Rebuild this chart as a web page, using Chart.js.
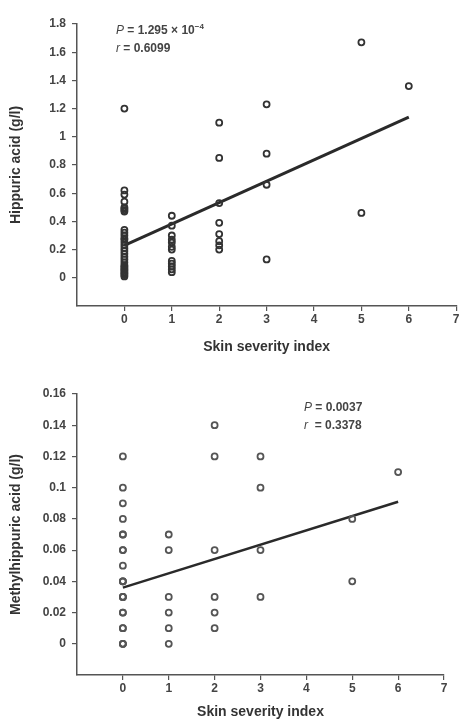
<!DOCTYPE html>
<html>
<head>
<meta charset="utf-8">
<script src="https://cdn.jsdelivr.net/npm/chart.js@4"></script>
<style>
  body { margin: 0; background: #fff; width: 462px; height: 723px; position: relative; overflow: hidden; }
  .box { position: absolute; left: 0; width: 462px; }
  .note { position: absolute; font: bold 12px "Liberation Sans", Arial, sans-serif; color: #444; line-height: 18px; white-space: nowrap; }
  .note i { font-weight: normal; }
  .note sup { font-size: 8px; }
</style>
</head>
<body>
<div class="box" style="top:0;height:362px"><canvas id="hippuric-chart"></canvas></div>
<div class="box" style="top:362px;height:361px"><canvas id="methyl-chart"></canvas></div>
<div class="note" style="left:116px;top:18px"><i>P</i> = 1.295 &times; 10<sup>&minus;4</sup><br><i>r</i> = 0.6099</div>
<div class="note" style="left:304px;top:398px"><i>P</i> = 0.0037<br><i>r</i> &nbsp;= 0.3378</div>
<script>
// Hippuric acid (g/l) vs skin severity index
var hippuricSeverity = [
  0, 0, 0, 0, 0, 0, 0, 0, 0, 0, 0, 0, 0, 0, 0, 0, 0, 0, 0, 0, 0, 0, 0, 0, 0, 0, 0, 0, 0, 0,
  1, 1, 1, 1, 1, 1, 1, 1, 1, 1, 1, 1,
  2, 2, 2, 2, 2, 2, 2, 2,
  3, 3, 3, 3,
  5, 5,
  6
];
var hippuricValues = [
  1.2, 0.62, 0.59, 0.54, 0.5, 0.49, 0.48, 0.47, 0.34, 0.32, 0.3, 0.28, 0.27, 0.25, 0.23,
  0.21, 0.19, 0.17, 0.15, 0.13, 0.11, 0.09, 0.08, 0.07, 0.06, 0.05, 0.04, 0.03, 0.02, 0.01,
  0.44, 0.37, 0.3, 0.27, 0.25, 0.22, 0.2, 0.12, 0.1, 0.08, 0.06, 0.04,
  1.1, 0.85, 0.53, 0.39, 0.31, 0.26, 0.23, 0.2,
  1.23, 0.88, 0.66, 0.13,
  1.67, 0.46,
  1.36
];
var hippuricFitX = [0, 6];
var hippuricFitY = [0.23, 1.14];

// Methylhippuric acid (g/l) vs skin severity index
var methylSeverity = [
  0, 0, 0, 0, 0, 0, 0, 0, 0, 0, 0, 0, 0, 0, 0, 0, 0, 0, 0, 0, 0, 0,
  1, 1, 1, 1, 1, 1,
  2, 2, 2, 2, 2, 2,
  3, 3, 3, 3,
  5, 5,
  6
];
var methylValues = [
  0.12, 0.1, 0.09, 0.08, 0.07, 0.07, 0.06, 0.06, 0.05, 0.04, 0.04, 0.04,
  0.03, 0.03, 0.03, 0.02, 0.02, 0.01, 0.01, 0, 0, 0,
  0.07, 0.06, 0.03, 0.02, 0.01, 0,
  0.14, 0.12, 0.06, 0.03, 0.02, 0.01,
  0.12, 0.1, 0.06, 0.03,
  0.08, 0.04,
  0.11
];
var methylFitX = [0, 6];
var methylFitY = [0.036, 0.091];

var severityTicks = [0, 1, 2, 3, 4, 5, 6, 7];

var axisColor = '#555';
var tickFont = { family: '"Liberation Sans", Arial, sans-serif', size: 12, weight: 'bold' };
var titleFont = { family: '"Liberation Sans", Arial, sans-serif', size: 14, weight: 'bold' };

function pairs(xs, ys) {
  return xs.map(function(x, i) { return { x: x, y: ys[i] }; });
}

// plain labels like the original: 1, 0.1 (no padded zeros)
function plainLabel(value) {
  return String(Number(value.toFixed(3)));
}

function makeChart(id, cfg) {
  return new Chart(document.getElementById(id).getContext('2d'), {
    type: 'scatter',
    data: {
      datasets: [{
        data: pairs(cfg.xs, cfg.ys),
        pointStyle: 'circle',
        pointRadius: 3,
        borderColor: cfg.pointColor,
        borderWidth: 1.8,
        backgroundColor: 'rgba(255,255,255,0)'
      }, {
        type: 'line',
        data: pairs(cfg.fitX, cfg.fitY),
        borderColor: '#2a2a2a',
        borderWidth: cfg.lineWidth,
        pointRadius: 0,
        fill: false
      }]
    },
    options: {
      responsive: true,
      maintainAspectRatio: false,
      animation: false,
      layout: { padding: cfg.padding },
      plugins: { legend: { display: false }, tooltip: { enabled: false } },
      scales: {
        x: {
          type: 'linear',
          min: -1,
          max: 7,
          afterBuildTicks: function(scale) {
            scale.ticks = severityTicks.map(function(v) { return { value: v }; });
          },
          afterFit: function(scale) { scale.height = cfg.xAxisHeight; },
          grid: { drawOnChartArea: false, color: axisColor, tickLength: 5, lineWidth: 1.2 },
          border: { color: axisColor, width: 1.5 },
          ticks: { color: '#444', font: tickFont, padding: 1, maxRotation: 0, callback: plainLabel },
          title: { display: true, text: 'Skin severity index', color: '#333', font: titleFont, padding: { top: 4, bottom: 0 } }
        },
        y: {
          type: 'linear',
          min: cfg.yMin,
          max: cfg.yMax,
          afterBuildTicks: function(scale) {
            scale.ticks = cfg.yTicks.map(function(v) { return { value: v }; });
          },
          afterFit: function(scale) { scale.width = 77 - cfg.padding.left; },
          grid: { drawOnChartArea: false, color: axisColor, tickLength: 5, lineWidth: 1.2 },
          border: { color: axisColor, width: 1.5 },
          ticks: { color: '#444', font: tickFont, padding: 6, callback: plainLabel },
          title: { display: true, text: cfg.yTitle, color: '#333', font: titleFont, padding: { top: 0, bottom: 0 } }
        }
      }
    }
  });
}

makeChart('hippuric-chart', {
  xs: hippuricSeverity, ys: hippuricValues,
  fitX: hippuricFitX, fitY: hippuricFitY,
  pointColor: '#333', lineWidth: 3,
  yMin: -0.2, yMax: 1.8,
  yTicks: [0, 0.2, 0.4, 0.6, 0.8, 1, 1.2, 1.4, 1.6, 1.8],
  yTitle: 'Hippuric acid (g/l)',
  padding: { left: 8, right: 0, top: 24, bottom: 6 },
  xAxisHeight: 50
});

makeChart('methyl-chart', {
  xs: methylSeverity, ys: methylValues,
  fitX: methylFitX, fitY: methylFitY,
  pointColor: '#555', lineWidth: 2.5,
  yMin: -0.02, yMax: 0.16,
  yTicks: [0, 0.02, 0.04, 0.06, 0.08, 0.1, 0.12, 0.14, 0.16],
  yTitle: 'Methylhippuric acid (g/l)',
  padding: { left: 8, right: 18, top: 32, bottom: 2 },
  xAxisHeight: 46
});
</script>
</body>
</html>
